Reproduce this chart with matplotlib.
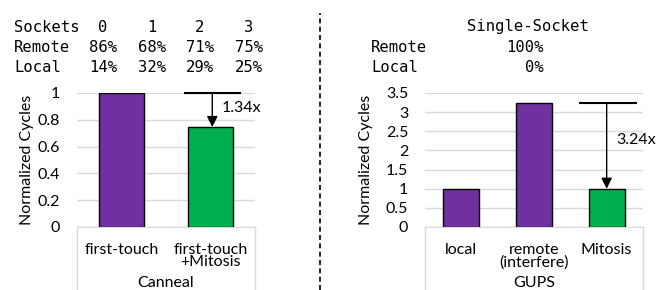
import numpy as np
import matplotlib
matplotlib.use('Agg')
import matplotlib.pyplot as plt
from matplotlib.lines import Line2D

# data
sockets = ['0', '1', '2', '3']
remote_pct = ['86%', '68%', '71%', '75%']
local_pct = ['14%', '32%', '29%', '25%']
single_remote = '100%'
single_local = '0%'

canneal_labels = ['first-touch', 'first-touch\n+Mitosis']
canneal_vals = [1.0, 0.746]
canneal_colors = ['#7030A0', '#00B050']
canneal_speedup = '1.34x'

gups_labels = ['local', 'remote\n(interfere)', 'Mitosis']
gups_vals = [1.0, 3.24, 1.0]
gups_colors = ['#7030A0', '#7030A0', '#00B050']
gups_speedup = '3.24x'

W, H = 665, 290
FS = 11.5
plt.rcParams['font.family'] = ['Lato', 'DejaVu Sans']
fig = plt.figure(figsize=(W / 100, H / 100), dpi=100)


def px(x, y):
    return x / W, 1 - y / H


mono = dict(family='DejaVu Sans Mono', fontsize=11.2, va='center')

# top-left table
fig.text(*px(14, 27), 'Sockets', ha='left', **mono)
fig.text(*px(14, 48), 'Remote', ha='left', **mono)
fig.text(*px(14, 68), 'Local', ha='left', **mono)
col_x = [103, 152, 200, 249]
for i in range(len(sockets)):
    fig.text(*px(col_x[i], 27), sockets[i], ha='center', **mono)
    fig.text(*px(col_x[i], 48), remote_pct[i], ha='center', **mono)
    fig.text(*px(col_x[i], 68), local_pct[i], ha='center', **mono)

# top-right table
fig.text(*px(528, 27), 'Single-Socket', ha='center', **mono)
fig.text(*px(371, 48), 'Remote', ha='left', **mono)
fig.text(*px(371, 68), 'Local', ha='left', **mono)
fig.text(*px(544, 48), single_remote, ha='right', **mono)
fig.text(*px(544, 68), single_local, ha='right', **mono)

# dashed divider
fig.add_artist(Line2D([320 / W, 320 / W], [0, 1 - 13 / H], transform=fig.transFigure,
                      color='black', lw=1.2, ls=(0, (3, 2))))


def panel(left, right, labels, vals, colors, ymax, ystep, group, ylab_x):
    b, t = 1 - 227 / H, 1 - 93 / H
    ax = fig.add_axes([left / W, b, (right - left) / W, t - b])
    x = np.arange(len(vals))
    ax.bar(x, vals, width=0.5, color=colors, edgecolor='black', lw=1, zorder=3)
    ax.set_xlim(-0.5, len(vals) - 0.5)
    ax.set_ylim(0, ymax)
    ticks = np.arange(0, ymax + 1e-9, ystep)
    ax.set_yticks(ticks)
    ax.set_yticklabels(['%g' % v for v in ticks], fontsize=FS)
    ax.tick_params(axis='y', length=0, pad=12)
    ax.set_xticks([])
    ax.grid(axis='y', color='#d9d9d9', lw=1, zorder=0)
    for s in ['top', 'left', 'right']:
        ax.spines[s].set_visible(False)
    ax.spines['bottom'].set_color('#d9d9d9')
    ax.spines['bottom'].set_zorder(4)
    ax.set_ylabel('Normalized Cycles', fontsize=FS)
    ax.yaxis.set_label_coords(ylab_x, 0.5)
    # category box
    depth = 63 / (227 - 93)
    for xe in [0, 1]:
        ax.plot([xe, xe], [0, -depth], transform=ax.transAxes, color='#d9d9d9',
                lw=1, clip_on=False)
    for i, lab in enumerate(labels):
        ax.text(i, -16 / 134 * ymax, lab, ha='center', va='top', fontsize=FS,
                linespacing=0.85)
    ax.text(0.5, -56 / 134, group, transform=ax.transAxes, ha='center',
            va='center', fontsize=FS)
    return ax


ax1 = panel(77, 255, canneal_labels, canneal_vals, canneal_colors, 1.0, 0.2,
            'Canneal', -0.24)
ax1.plot([0.71, 1.33], [1.0, 1.0], color='black', lw=1.5, clip_on=False, zorder=5)
ax1.annotate('', xy=(1.02, canneal_vals[1]), xytext=(1.02, 1.0),
             arrowprops=dict(arrowstyle='-|>', color='black', lw=1,
                             mutation_scale=16, shrinkA=0, shrinkB=0),
             annotation_clip=False, zorder=5)
ax1.text(1.13, 0.89, canneal_speedup, ha='left', va='center', fontsize=FS)

ax2 = panel(425, 643, gups_labels, gups_vals, gups_colors, 3.5, 0.5,
            'GUPS', -0.24)
ax2.plot([1.63, 2.40], [gups_vals[1], gups_vals[1]], color='black', lw=1.5,
         clip_on=False, zorder=5)
ax2.annotate('', xy=(2.0, gups_vals[2]), xytext=(2.0, gups_vals[1]),
             arrowprops=dict(arrowstyle='-|>', color='black', lw=1,
                             mutation_scale=16, shrinkA=0, shrinkB=0),
             annotation_clip=False, zorder=5)
ax2.text(2.13, 2.27, gups_speedup, ha='left', va='center', fontsize=FS)

fig.savefig('out.png', dpi=100)
